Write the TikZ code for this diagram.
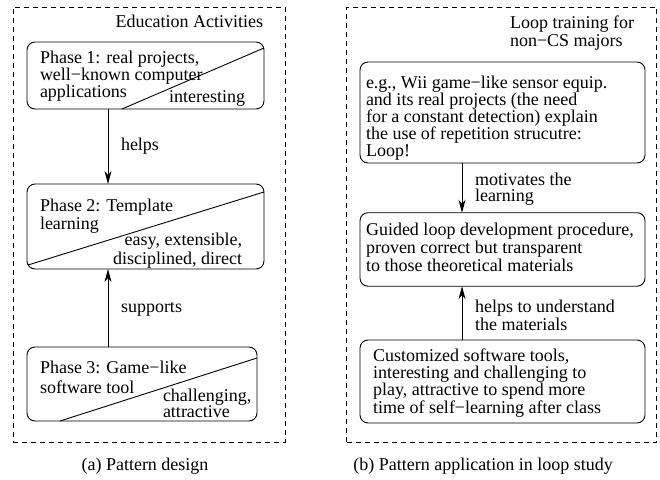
\documentclass[tikz,border=0pt]{standalone}
\usepackage{fontspec}
\setmainfont{Liberation Serif}
\usetikzlibrary{arrows.meta,calc}
\newcommand\LinesL[2]{{\baselineskip=#1pt\vtop{\halign{##\hfil\cr#2\crcr}}}}
\newcommand\LinesR[2]{{\baselineskip=#1pt\vtop{\halign{\hfil##\cr#2\crcr}}}}
\begin{document}
\begin{tikzpicture}[x=1pt,y=-1pt,
  every node/.style={inner sep=0pt, outer sep=0pt, font=\fontsize{18}{17}\selectfont},
  box/.style={draw, line width=0.9pt, rounded corners=8pt, anchor=north west},
  frame/.style={draw, line width=0.9pt, dash pattern=on 5pt off 4pt, anchor=north west},
  arr/.style={line width=0.8pt, -{Stealth[length=13pt,width=7pt,inset=4pt]}},
  diag/.style={line width=0.9pt}]
\useasboundingbox (0,0) rectangle (660,479);
% ---------- left panel ----------
\node[frame, minimum width=272pt, minimum height=435pt] (fa) at (13,7) {};
\node[anchor=base east] (ta) at (263,27.5) {Education Activities};
\node[box, minimum width=237pt, minimum height=67pt] (b1) at (27,42) {};
\draw[diag] ($(b1.north east)+(0,6)$) -- ($(b1.south west)+(95,0)$);
\node[anchor=base west] (t1) at (40,63.5) {\LinesL{17}{Phase 1: real projects,\cr well−known computer\cr applications}};
\node[anchor=base east] (i1) at (245,102) {interesting};
\node[box, minimum width=237pt, minimum height=85pt] (b2) at (27,184) {};
\draw[diag] ($(b2.north east)+(0,8)$) -- ($(b2.south west)+(1,-4)$);
\node[anchor=base west] (t2) at (40,211) {\LinesL{18.5}{Phase 2: Template\cr learning}};
\node[anchor=base east] (e2) at (242,245.5) {\LinesR{19}{easy, extensible,\cr disciplined, direct}};
\node[box, minimum width=230pt, minimum height=74pt] (b3) at (27,347) {};
\draw[diag] ($(b3.north east)+(0,11)$) -- ($(b3.south west)+(33,0)$);
\node[anchor=base west] (t3) at (40,373.5) {\LinesL{20}{Phase 3: Game−like\cr software tool}};
\node[anchor=base west] (c3) at (163,401) {\LinesL{13}{challenging,\cr attractive}};
\draw[arr] ($(b1.south west)+(81,0)$) -- ($(b2.north west)+(81,0)$);
\node[anchor=base west] (l1) at (121,150) {helps};
\draw[arr] ($(b3.north west)+(81,0)$) -- ($(b2.south west)+(81,0)$);
\node[anchor=base west] (l2) at (121,312.5) {supports};
\node[anchor=base] (capa) at (145,470) {(a) Pattern design};
% ---------- right panel ----------
\node[frame, minimum width=310pt, minimum height=435pt] (fb) at (346.5,7) {};
\node[anchor=base west] (tb) at (510,28.3) {\LinesL{18.4}{Loop training for\cr non−CS majors}};
\node[box, minimum width=285pt, minimum height=101pt] (b4) at (360,62) {};
\node[anchor=base west] (t4) at (366,88) {\LinesL{17}{e.g., Wii game−like sensor equip.\cr and its real projects (the need\cr for a constant detection) explain\cr the use of repetition strucutre:\cr Loop!}};
\node[box, minimum width=285pt, minimum height=73.5pt] (b5) at (360,212.7) {};
\node[anchor=base west] (t5) at (366,235) {\LinesL{18.3}{Guided loop development procedure,\cr proven correct but transparent\cr to those theoretical materials}};
\node[box, minimum width=285pt, minimum height=83pt] (b6) at (360,340) {};
\node[anchor=base west] (t6) at (373,361.5) {\LinesL{17.2}{Customized software tools,\cr interesting and challenging to\cr play, attractive to spend more\cr time of self−learning after class}};
\draw[arr] ($(b4.south west)+(102,0)$) -- ($(b5.north west)+(102,0)$);
\node[anchor=base west] (l3) at (475,185) {\LinesL{16.7}{motivates the\cr learning}};
\draw[arr] ($(b6.north west)+(102,0)$) -- ($(b5.south west)+(102,0)$);
\node[anchor=base west] (l4) at (475,312.7) {\LinesL{17.5}{helps to understand\cr the materials}};
\node[anchor=base] (capb) at (483,470) {(b) Pattern application in loop study};
\end{tikzpicture}
\end{document}
